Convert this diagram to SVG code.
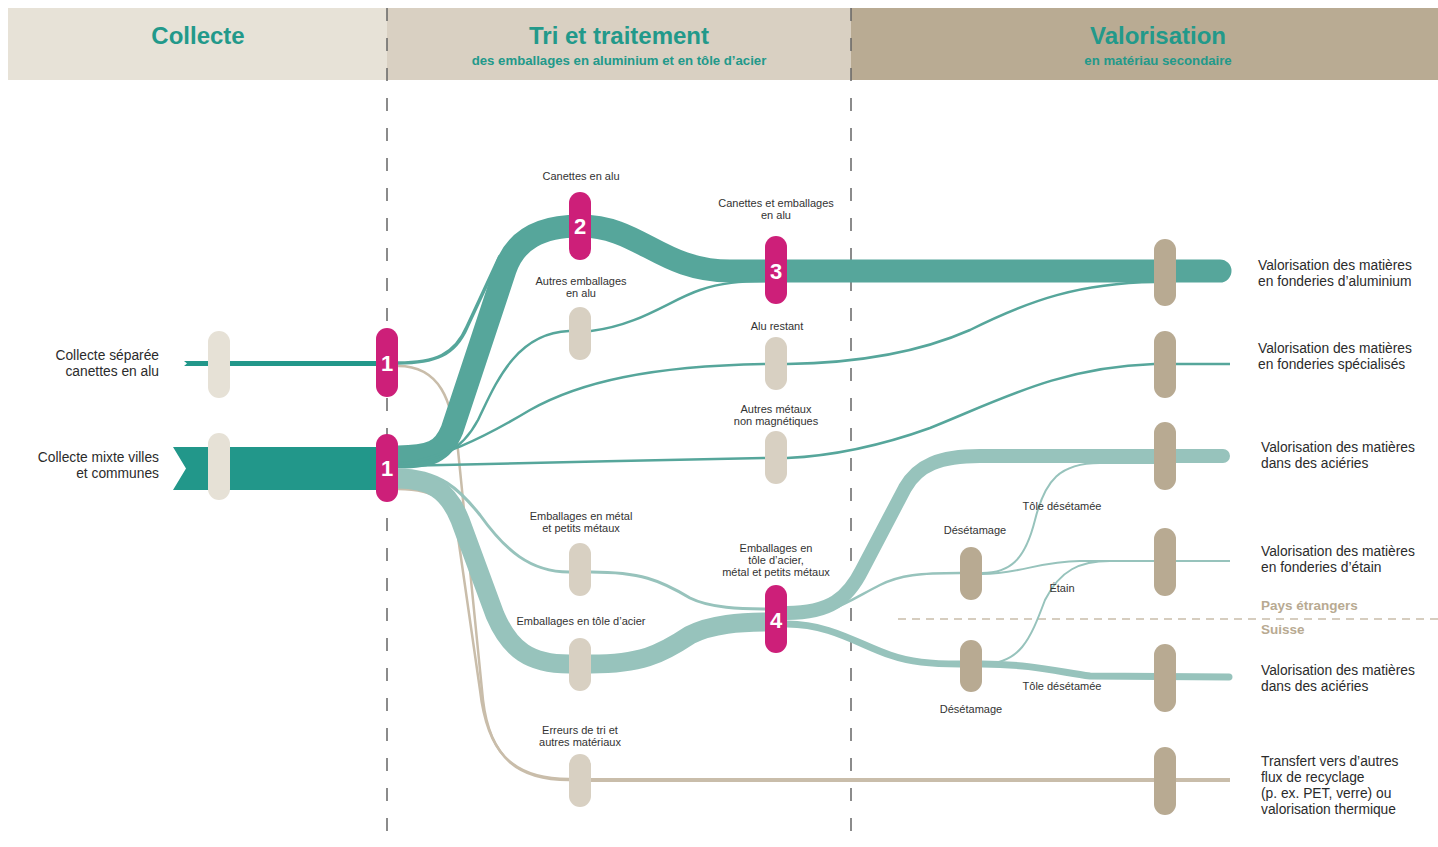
<svg xmlns="http://www.w3.org/2000/svg" width="1438" height="847" viewBox="0 0 1438 847">
<defs>
<style>
.hdr{font-family:"Liberation Sans",Arial,sans-serif;font-weight:bold;fill:#22998A;text-anchor:middle}
.h1{font-size:24px}
.h2{font-size:13.2px}
.lbl{font-family:"Liberation Sans",Arial,sans-serif;font-size:11px;fill:#333;text-anchor:middle}
.rl{font-family:"Liberation Sans",Arial,sans-serif;font-size:13.8px;fill:#2b2b2b}
.ll{font-family:"Liberation Sans",Arial,sans-serif;font-size:13.8px;fill:#2b2b2b;text-anchor:end}
.geo{font-family:"Liberation Sans",Arial,sans-serif;font-size:13.5px;font-weight:bold;fill:#B8AA92}
.num{font-family:"Liberation Sans",Arial,sans-serif;font-size:22px;font-weight:bold;fill:#fff;text-anchor:middle}
.f{fill:none}
.dk{stroke:#56A69B}
.lt{stroke:#97C3BC}
.bg{stroke:#C9BDAA}
.mg{fill:#CD1F79}
.p0{fill:#E6E1D6}
.p1{fill:#D8D0C2}
.p2{fill:#B8AA92}
.vd{stroke:#666;stroke-width:1.5;stroke-dasharray:13 17;fill:none}
</style>
</defs>
<rect x="0" y="0" width="1438" height="847" fill="#fff"/>
<g id="header">
<rect x="8" y="8" width="379" height="72" fill="#E7E2D7"/>
<rect x="387" y="8" width="464" height="72" fill="#D9D0C2"/>
<rect x="851" y="8" width="587" height="72" fill="#B9AB93"/>
<text class="hdr h1" x="198" y="44">Collecte</text>
<text class="hdr h1" x="619" y="44">Tri et traitement</text>
<text class="hdr h2" x="619" y="65">des emballages en aluminium et en tôle d’acier</text>
<text class="hdr h1" x="1158" y="44">Valorisation</text>
<text class="hdr h2" x="1158" y="65">en matériau secondaire</text>
</g>
<g id="separators">
<line class="vd" x1="387" y1="8" x2="387" y2="847"/>
<line class="vd" x1="851" y1="8" x2="851" y2="847"/>
<line x1="898" y1="619" x2="1438" y2="619" stroke="#C9BDAA" stroke-width="1.5" stroke-dasharray="8 6"/>
</g>
<g id="connectors">
<polygon points="184,361 387,361 387,366 184,366 187,363.5" fill="#22978A"/>
<polygon points="173,447 387,447 387,490 173,490 186,468.5" fill="#22978A"/>
<path class="f bg" stroke-width="2.5" d="M398 366 C440 366 452 400 458 450 L483 700 C490 760 520 780 569 780"/>
<path class="f bg" stroke-width="2.5" d="M398 489 C440 489 452 505 457 530 L480 690 C487 750 510 779 569 779"/>
<path class="f bg" stroke-width="4" d="M591 780 L1230 780"/>
<path class="f dk" stroke-width="23" d="M398 457 C430 457 443 452 452 430 L505 270 C515 240 540 226 580 226"/>
<path class="f dk" stroke-width="3.5" d="M398 363 C435 363 455 355 467 327 L500 256"/>
<path class="f dk" stroke-width="23" stroke-linecap="round" d="M580 226 C640 226 660 271 730 271 L1220 271"/>
<path class="f dk" stroke-width="2.5" d="M398 463 C440 462 462 450 478 420 C495 385 515 333 569 331"/>
<path class="f dk" stroke-width="2.5" d="M591 331 C640 325 670 300 700 290 C720 283 740 281 770 281"/>
<path class="f dk" stroke-width="2.5" d="M398 465 C440 458 480 440 530 410 C580 382 650 366 765 364"/>
<path class="f dk" stroke-width="2.5" d="M787 364 C860 363 920 352 970 330 C1030 300 1080 283 1155 282"/>
<path class="f dk" stroke-width="2.5" d="M398 466 C500 464 650 460 765 458"/>
<path class="f dk" stroke-width="2.5" d="M787 458 C830 456 880 446 930 428 C1000 400 1060 367 1154 364 L1230 364"/>
<path class="f lt" stroke-width="19" d="M398 479 C430 479 448 490 460 520 L495 615 C510 650 530 664 569 664"/>
<path class="f lt" stroke-width="19" d="M591 664 C640 664 660 655 690 635 C712 624 740 622 770 622"/>
<path class="f lt" stroke-width="3" d="M398 470 C440 470 460 490 480 515 C505 550 530 572 569 572"/>
<path class="f lt" stroke-width="3" d="M591 572 C640 572 660 580 690 598 C710 608 740 609 770 609"/>
<path class="f lt" stroke-width="14" stroke-linecap="round" d="M787 613 C830 613 848 598 862 570 L905 488 C918 465 940 456 980 456 L1223 456"/>
<path class="f lt" stroke-width="2.5" d="M787 617 C830 617 850 600 880 585 C900 575 920 573 960 573"/>
<path class="f lt" stroke-width="2" d="M982 573 C1010 573 1025 560 1035 520 C1045 480 1060 463 1100 463 L1155 463"/>
<path class="f lt" stroke-width="2" d="M982 574 C1020 574 1040 561 1080 561 L1230 561"/>
<path class="f lt" stroke-width="7" d="M787 624 C830 624 860 645 890 655 C910 662 930 664 960 664"/>
<path class="f lt" stroke-width="2" d="M982 664 C1020 664 1030 640 1045 600 C1060 570 1080 561 1110 561"/>
<path class="f lt" stroke-width="7" stroke-linecap="round" d="M982 664 C1030 664 1060 672 1090 676 L1229 677"/>
</g>
<g id="n-collecte-separee"><rect class="p0" x="208" y="331" width="22" height="67" rx="11"/><text class="ll" x="159" y="360">Collecte séparée</text><text class="ll" x="159" y="376">canettes en alu</text></g>
<g id="n-collecte-mixte"><rect class="p0" x="208" y="433" width="22" height="67" rx="11"/><text class="ll" x="159" y="462">Collecte mixte villes</text><text class="ll" x="159" y="478">et communes</text></g>
<g id="n1a"><rect class="mg" x="376" y="328" width="22" height="69" rx="11"/><text class="num" x="387" y="371">1</text></g>
<g id="n1b"><rect class="mg" x="376" y="434" width="22" height="68" rx="11"/><text class="num" x="387" y="476">1</text></g>
<g id="n2"><rect class="mg" x="569" y="192" width="22" height="68" rx="11"/><text class="num" x="580" y="234">2</text><text class="lbl" x="581" y="180">Canettes en alu</text></g>
<g id="n-autres-emb"><rect class="p1" x="569" y="307" width="22" height="53" rx="11"/><text class="lbl" x="581" y="285">Autres emballages</text><text class="lbl" x="581" y="297">en alu</text></g>
<g id="n3"><rect class="mg" x="765" y="236" width="22" height="68" rx="11"/><text class="num" x="776" y="279">3</text><text class="lbl" x="776" y="207">Canettes et emballages</text><text class="lbl" x="776" y="219">en alu</text></g>
<g id="n-alu-restant"><rect class="p1" x="765" y="337" width="22" height="53" rx="11"/><text class="lbl" x="777" y="330">Alu restant</text></g>
<g id="n-autres-metaux"><rect class="p1" x="765" y="431" width="22" height="53" rx="11"/><text class="lbl" x="776" y="413">Autres métaux</text><text class="lbl" x="776" y="425">non magnétiques</text></g>
<g id="n-emb-metal"><rect class="p1" x="569" y="543" width="22" height="53" rx="11"/><text class="lbl" x="581" y="520">Emballages en métal</text><text class="lbl" x="581" y="532">et petits métaux</text></g>
<g id="n-emb-tole"><rect class="p1" x="569" y="638" width="22" height="53" rx="11"/><text class="lbl" x="581" y="625">Emballages en tôle d’acier</text></g>
<g id="n-erreurs"><rect class="p1" x="569" y="754" width="22" height="53" rx="11"/><text class="lbl" x="580" y="734">Erreurs de tri et</text><text class="lbl" x="580" y="746">autres matériaux</text></g>
<g id="n4"><rect class="mg" x="765" y="585" width="22" height="68" rx="11"/><text class="num" x="776" y="628">4</text><text class="lbl" x="776" y="552">Emballages en</text><text class="lbl" x="776" y="564">tôle d’acier,</text><text class="lbl" x="776" y="576">métal et petits métaux</text></g>
<g id="n-desetamage-1"><rect class="p2" x="960" y="547" width="22" height="53" rx="11"/><text class="lbl" x="975" y="534">Désétamage</text></g>
<g id="n-desetamage-2"><rect class="p2" x="960" y="640" width="22" height="52" rx="11"/><text class="lbl" x="971" y="713">Désétamage</text></g>
<g id="flow-labels"><text class="lbl" x="1062" y="510">Tôle désétamée</text><text class="lbl" x="1062" y="592">Étain</text><text class="lbl" x="1062" y="690">Tôle désétamée</text></g>
<g id="v1"><rect class="p2" x="1154" y="239" width="22" height="67" rx="11"/><text class="rl" x="1258" y="270">Valorisation des matières</text><text class="rl" x="1258" y="286">en fonderies d’aluminium</text></g>
<g id="v2"><rect class="p2" x="1154" y="331" width="22" height="67" rx="11"/><text class="rl" x="1258" y="353">Valorisation des matières</text><text class="rl" x="1258" y="369">en fonderies spécialisés</text></g>
<g id="v3"><rect class="p2" x="1154" y="422" width="22" height="68" rx="11"/><text class="rl" x="1261" y="452">Valorisation des matières</text><text class="rl" x="1261" y="468">dans des aciéries</text></g>
<g id="v4"><rect class="p2" x="1154" y="528" width="22" height="68" rx="11"/><text class="rl" x="1261" y="556">Valorisation des matières</text><text class="rl" x="1261" y="572">en fonderies d’étain</text></g>
<g id="v5"><rect class="p2" x="1154" y="644" width="22" height="68" rx="11"/><text class="rl" x="1261" y="675">Valorisation des matières</text><text class="rl" x="1261" y="691">dans des aciéries</text></g>
<g id="v6"><rect class="p2" x="1154" y="747" width="22" height="68" rx="11"/><text class="rl" x="1261" y="766">Transfert vers d’autres</text><text class="rl" x="1261" y="782">flux de recyclage</text><text class="rl" x="1261" y="798">(p. ex. PET, verre) ou</text><text class="rl" x="1261" y="814">valorisation thermique</text></g>
<g id="regions"><text class="geo" x="1261" y="610">Pays étrangers</text><text class="geo" x="1261" y="634">Suisse</text></g>
</svg>
